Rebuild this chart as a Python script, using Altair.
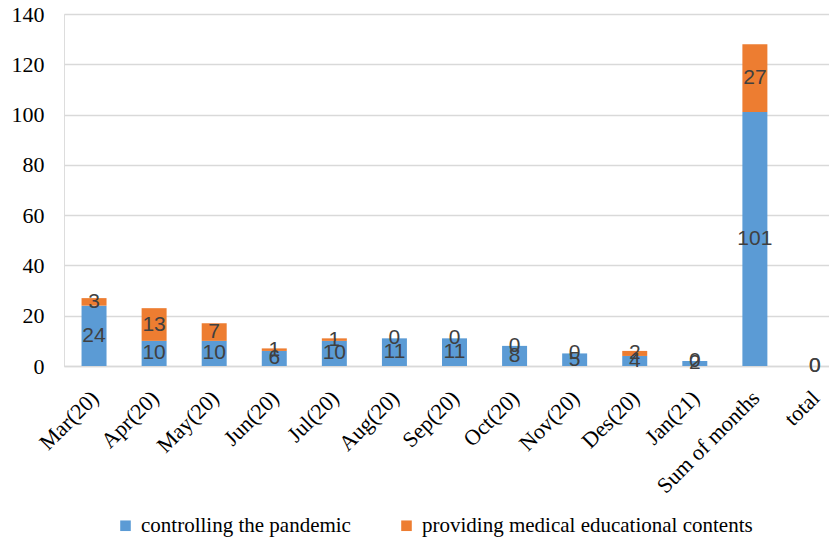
import altair as alt
import pandas as pd

categories = ["Mar(20)", "Apr(20)", "May(20)", "Jun(20)", "Jul(20)", "Aug(20)",
              "Sep(20)", "Oct(20)", "Nov(20)", "Des(20)", "Jan(21)", "Sum of months", "total"]
controlling = [24, 10, 10, 6, 10, 11, 11, 8, 5, 4, 2, 101, 0]
providing = [3, 13, 7, 1, 1, 0, 0, 0, 0, 2, 0, 27, 0]
series_names = ["controlling the pandemic", "providing medical educational contents"]
series_colors = ["#5B9BD5", "#ED7D31"]
y_ticks = [0, 20, 40, 60, 80, 100, 120, 140]

rows = []
for i, c in enumerate(categories):
    rows.append({"cat": c, "series": series_names[0], "value": controlling[i], "ord": 0})
    rows.append({"cat": c, "series": series_names[1], "value": providing[i], "ord": 1})
df = pd.DataFrame(rows)

SERIF = "Liberation Serif"
SANS = "Liberation Sans"

base = alt.Chart(df).transform_stack(
    stack="value", groupby=["cat"], as_=["v0", "v1"], sort=[alt.SortField("ord")]
).transform_calculate(mid="(datum.v0 + datum.v1) / 2")

x_scale = alt.Scale(paddingInner=0.584, paddingOuter=0.292, range=[0, 781])

x_enc = alt.X("cat:N", sort=categories, title=None, scale=x_scale,
              axis=alt.Axis(labelAngle=-45, labelAlign="right", labelBaseline="middle",
                            labelFont=SERIF, labelFontSize=22, labelColor="black",
                            labelPadding=28, labelOffset=1, ticks=False, domainColor="#d9d9d9",
                            domainWidth=1.5, grid=False, labelOverlap=False, labelLimit=0))

y_scale = alt.Scale(domain=[0, 140], nice=False)

bars = base.mark_bar().encode(
    x=x_enc,
    y=alt.Y("v0:Q", scale=y_scale, title=None,
            axis=alt.Axis(values=y_ticks, labelFont=SERIF, labelFontSize=22, labelColor="black",
                          labelPadding=20, ticks=False, domain=False, gridColor="#d9d9d9",
                          gridWidth=1.5)),
    y2="v1:Q",
    color=alt.Color("series:N", scale=alt.Scale(domain=series_names, range=series_colors),
                    legend=alt.Legend(title=None, orient="none", direction="horizontal",
                                      legendX=51, legendY=501, symbolType="square",
                                      symbolSize=112, symbolStrokeWidth=0, padding=0,
                                      labelFont=SERIF, labelFontSize=21, labelColor="black",
                                      labelLimit=0, columnPadding=45, symbolOffset=0,
                                      labelOffset=5)),
)

labels = base.mark_text(font=SANS, fontSize=21, color="#404040", baseline="middle",
                        align="center").encode(
    x=alt.X("cat:N", sort=categories, scale=x_scale),
    y=alt.Y("mid:Q", scale=y_scale),
    text=alt.Text("value:Q"),
)

chart = alt.layer(bars, labels).properties(
    width=765, height=352,
    autosize=alt.AutoSizeParams(type="none"),
    padding={"left": 56, "top": 6, "right": 0, "bottom": 173},
).configure_view(stroke=None).configure(background="white")

chart.save("out.html", embed_options={"renderer": "svg", "actions": False})
